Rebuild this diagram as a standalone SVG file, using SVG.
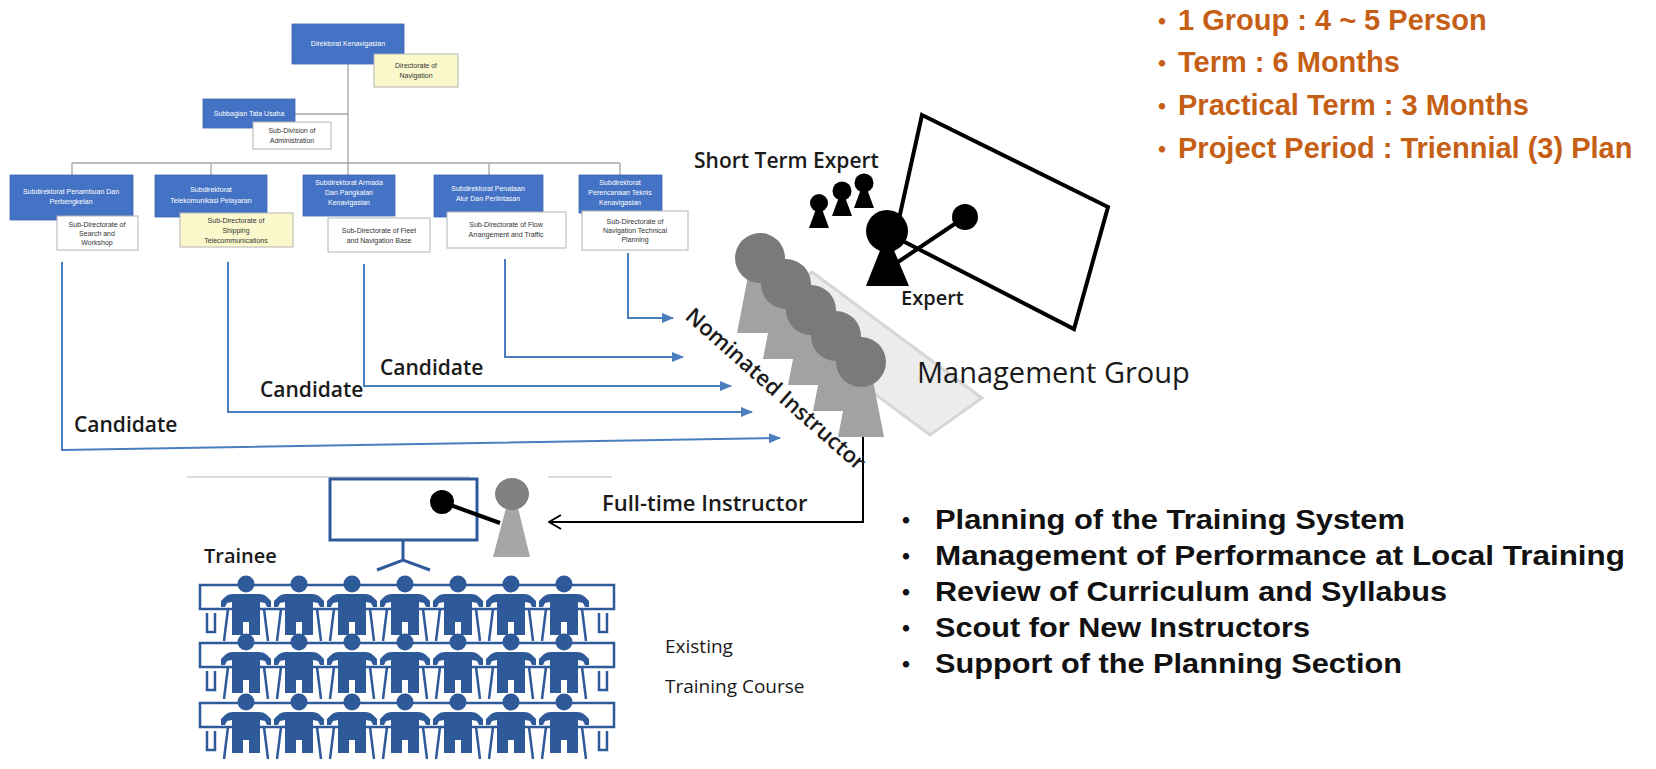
<svg xmlns="http://www.w3.org/2000/svg" width="1656" height="769" viewBox="0 0 1656 769">
  <defs>
    <style>
      .org-line{stroke:#a6a6a6;stroke-width:1.3;fill:none}
      .box-jp{fill:#4472c4;stroke:#3d67b3;stroke-width:0.8}
      .box-en{fill:#ffffff;stroke:#b3b3b3;stroke-width:1}
      .box-yl{fill:#fbf9cc;stroke:#b3b3b3;stroke-width:1}
      .t-jp{font-family:"Liberation Sans",Arial,sans-serif;font-size:7px;fill:#ffffff;text-anchor:middle}
      .t-en{font-family:"Liberation Sans",Arial,sans-serif;font-size:7px;fill:#333333;text-anchor:middle}
      .cand{stroke:#4a7ebf;stroke-width:2;fill:none}
      .lbl{font-family:"Open Sans","Liberation Sans",sans-serif;font-weight:600;fill:#1a1a1a}
      .lbl-reg{font-family:"Open Sans","Liberation Sans",sans-serif;font-weight:400;fill:#1a1a1a}
      .orange{font-family:"Liberation Sans",Arial,sans-serif;font-weight:bold;font-size:29px;fill:#c65f16}
      .task{font-family:"Liberation Sans",Arial,sans-serif;font-weight:bold;font-size:27px;fill:#111111}
      .dot{font-family:"Noto Sans CJK JP","Noto Sans",sans-serif;text-anchor:middle;font-size:25px}
      .blue{fill:#2f5a9a}
      .desk{fill:none;stroke:#2f5a9a;stroke-width:2.5}
      .nom-head{fill:#7a7a7a}
      .nom-body{fill:#a2a2a2}
    </style>
    <marker id="arrBlue" viewBox="0 0 12 10" refX="11" refY="5" markerWidth="12" markerHeight="10" markerUnits="userSpaceOnUse" orient="auto">
      <path d="M0,0 L12,5 L0,10 z" fill="#4a7ebf"/>
    </marker>
    <marker id="arrOpen" viewBox="0 0 14 16" refX="13" refY="8" markerWidth="14" markerHeight="16" markerUnits="userSpaceOnUse" orient="auto">
      <path d="M1,1 L13,8 L1,15" fill="none" stroke="#000" stroke-width="2"/>
    </marker>
    <!-- seated trainee at a desk; origin = head centre on the desk edge -->
    <g id="trainee" class="blue">
      <circle cx="0" cy="-1" r="8.5"/>
      <path d="M-13,9 H13 Q18,9 21,12 L25,16 V22 H21 L19,18 L14,17 V50 H3 V37 H-3 V50 H-14 V17 L-19,18 L-21,22 H-25 V16 L-21,12 Q-18,9 -13,9 Z"/>
      <path d="M-18,24 L-22,56 M18,24 L22,56" stroke="#2f5a9a" stroke-width="2.5" fill="none"/>
    </g>
    <g id="desk-row">
      <rect class="desk" x="200" y="0" width="414" height="24"/>
      <path class="desk" d="M207,28 V47 H215 V28 M607,28 V47 H599 V28"/>
      <use href="#trainee" x="246" y="0"/>
      <use href="#trainee" x="299" y="0"/>
      <use href="#trainee" x="352" y="0"/>
      <use href="#trainee" x="405" y="0"/>
      <use href="#trainee" x="458" y="0"/>
      <use href="#trainee" x="511" y="0"/>
      <use href="#trainee" x="564" y="0"/>
    </g>
  </defs>

  <rect width="1656" height="769" fill="#ffffff"/>

  <!-- organisation chart wiring -->
  <g id="org-lines">
    <path class="org-line" d="M348,64 V175 M295,114 H348 M72,163 H620 M72,163 V175 M211,163 V175 M489,163 V175 M620,163 V175"/>
  </g>

  <g id="org-directorate">
    <rect class="box-jp" x="292" y="24" width="112" height="40"/>
    <text class="t-jp" x="348" y="46">Direktorat Kenavigasian</text>
    <rect class="box-yl" x="374" y="54" width="84" height="33"/>
    <text class="t-en" x="416" y="68">Directorate of</text>
    <text class="t-en" x="416" y="78">Navigation</text>
  </g>

  <g id="org-administration">
    <rect class="box-jp" x="203" y="99" width="92" height="29"/>
    <text class="t-jp" x="249" y="116">Subbagian Tata Usaha</text>
    <rect class="box-en" x="253" y="122" width="78" height="27"/>
    <text class="t-en" x="292" y="133">Sub-Division of</text>
    <text class="t-en" x="292" y="143">Administration</text>
  </g>

  <g id="org-search-workshop">
    <rect class="box-jp" x="10" y="175" width="123" height="45"/>
    <text class="t-jp" x="71" y="194">Subdirektorat Penambuan Dan</text>
    <text class="t-jp" x="71" y="204">Perbengkelan</text>
    <rect class="box-en" x="57" y="216" width="81" height="34"/>
    <text class="t-en" x="97" y="227">Sub-Directorate of</text>
    <text class="t-en" x="97" y="236">Search and</text>
    <text class="t-en" x="97" y="245">Workshop</text>
  </g>

  <g id="org-telecom">
    <rect class="box-jp" x="155" y="175" width="112" height="42"/>
    <text class="t-jp" x="211" y="192">Subdirektorat</text>
    <text class="t-jp" x="211" y="203">Telekomunikasi Pelayaran</text>
    <rect class="box-yl" x="180" y="213" width="113" height="34"/>
    <text class="t-en" x="236" y="223">Sub-Directorate of</text>
    <text class="t-en" x="236" y="233">Shipping</text>
    <text class="t-en" x="236" y="243">Telecommunications</text>
  </g>

  <g id="org-fleet">
    <rect class="box-jp" x="303" y="175" width="92" height="41"/>
    <text class="t-jp" x="349" y="185">Subdirektorat Armada</text>
    <text class="t-jp" x="349" y="195">Dan Pangkalan</text>
    <text class="t-jp" x="349" y="205">Kenavigasian</text>
    <rect class="box-en" x="328" y="218" width="102" height="34"/>
    <text class="t-en" x="379" y="233">Sub-Directorate of Fleet</text>
    <text class="t-en" x="379" y="243">and Navigation Base</text>
  </g>

  <g id="org-flow">
    <rect class="box-jp" x="434" y="175" width="109" height="42"/>
    <text class="t-jp" x="488" y="191">Subdirektorat Penataan</text>
    <text class="t-jp" x="488" y="201">Alur Dan Perlintasan</text>
    <rect class="box-en" x="447" y="212" width="119" height="36"/>
    <text class="t-en" x="506" y="227">Sub-Directorate of Flow</text>
    <text class="t-en" x="506" y="237">Arrangement and Traffic</text>
  </g>

  <g id="org-planning">
    <rect class="box-jp" x="579" y="175" width="83" height="38"/>
    <text class="t-jp" x="620" y="185">Subdirektorat</text>
    <text class="t-jp" x="620" y="195">Perencanaan Teknis</text>
    <text class="t-jp" x="620" y="205">Kenavigasian</text>
    <rect class="box-en" x="582" y="211" width="106" height="39"/>
    <text class="t-en" x="635" y="224">Sub-Directorate of</text>
    <text class="t-en" x="635" y="233">Navigation Technical</text>
    <text class="t-en" x="635" y="242">Planning</text>
  </g>

  <!-- candidate and assignment connectors -->
  <g id="connectors">
    <path class="cand" d="M62,262 V450 L780,438" marker-end="url(#arrBlue)"/>
    <path class="cand" d="M228,262 V412 H752" marker-end="url(#arrBlue)"/>
    <path class="cand" d="M364,264 V386 H731" marker-end="url(#arrBlue)"/>
    <path class="cand" d="M505,259 V357 H683" marker-end="url(#arrBlue)"/>
    <path class="cand" d="M628,253 V318 H673" marker-end="url(#arrBlue)"/>
    <path d="M863,437 V522 H549" fill="none" stroke="#000" stroke-width="2" marker-end="url(#arrOpen)"/>
  </g>

  <g id="candidate-labels">
    <text class="lbl" x="74" y="432" font-size="21">Candidate</text>
    <text class="lbl" x="260" y="397" font-size="21">Candidate</text>
    <text class="lbl" x="380" y="375" font-size="21">Candidate</text>
    <text class="lbl" x="602" y="511" font-size="22">Full-time Instructor</text>
  </g>

  <!-- expert with board -->
  <g id="expert">
    <polygon points="922,115 1108,207 1074,329 895,237" fill="#ffffff" stroke="#000" stroke-width="4"/>
    <line x1="898" y1="262" x2="965" y2="217" stroke="#000" stroke-width="4"/>
    <circle cx="965" cy="217" r="13"/>
    <polygon points="881,248 893,248 909,286 866,286"/>
    <circle cx="887" cy="231" r="21"/>
    <text class="lbl" x="901" y="305" font-size="20">Expert</text>
  </g>

  <g id="short-term-experts">
    <polygon points="816,209 822,209 829,228 809,228"/>
    <circle cx="819" cy="203" r="9"/>
    <polygon points="839,197 845,197 852,216 832,216"/>
    <circle cx="842" cy="191" r="9.5"/>
    <polygon points="861,189 867,189 874,208 854,208"/>
    <circle cx="864" cy="183" r="9.5"/>
    <text class="lbl" x="694" y="168" font-size="21">Short Term Expert</text>
  </g>

  <!-- management group and nominated instructors -->
  <g id="management-group">
    <polygon points="812,272 982,398 930,435 760,309" fill="#ececec" stroke="#d6d6d6" stroke-width="3"/>
    <text class="lbl-reg" x="917" y="383" font-size="29" font-weight="500">Management Group</text>
  </g>

  <g id="nominated-instructors">
    <polygon class="nom-body" points="750,266 770,266 783,333 737,333"/>
    <polygon class="nom-body" points="776,292 796,292 809,359 763,359"/>
    <polygon class="nom-body" points="801,318 821,318 834,385 788,385"/>
    <polygon class="nom-body" points="826,344 846,344 859,411 813,411"/>
    <polygon class="nom-body" points="851,370 871,370 884,437 838,437"/>
    <circle class="nom-head" cx="760" cy="258" r="25"/>
    <circle class="nom-head" cx="786" cy="284" r="25"/>
    <circle class="nom-head" cx="811" cy="310" r="25"/>
    <circle class="nom-head" cx="836" cy="336" r="25"/>
    <circle class="nom-head" cx="861" cy="362" r="25"/>
    <text class="lbl" transform="translate(684,318) rotate(41.5)" font-size="22">Nominated Instructor</text>
  </g>

  <!-- classroom -->
  <g id="classroom">
    <path d="M187,477 H470 M548,477 H612" stroke="#dddddd" stroke-width="2" fill="none"/>
    <rect x="330" y="479" width="147" height="61" fill="#ffffff" stroke="#2f5a9a" stroke-width="3"/>
    <path d="M403,540 V560 M377,570 L403,560 L430,570" fill="none" stroke="#2f5a9a" stroke-width="3"/>
    <line x1="442" y1="502" x2="500" y2="523" stroke="#000" stroke-width="4"/>
    <circle cx="442" cy="502" r="12"/>
    <polygon points="506,508 518,508 530,557 493,557" fill="#a6a6a6"/>
    <ellipse cx="512" cy="494" rx="17" ry="16" fill="#808080"/>
    <text class="lbl" x="204" y="563" font-size="20">Trainee</text>
    <use href="#desk-row" x="0" y="585"/>
    <use href="#desk-row" x="0" y="643"/>
    <use href="#desk-row" x="0" y="703"/>
    <text class="lbl-reg" x="665" y="653" font-size="19" fill="#333333">Existing</text>
    <text class="lbl-reg" x="665" y="693" font-size="19" fill="#333333">Training Course</text>
  </g>

  <!-- programme figures -->
  <g id="programme-terms">
    <text class="orange dot" x="1162" y="31">・</text>
    <text class="orange" x="1178" y="30">1 Group : 4 ~ 5 Person</text>
    <text class="orange dot" x="1162" y="73">・</text>
    <text class="orange" x="1178" y="72">Term : 6 Months</text>
    <text class="orange dot" x="1162" y="116">・</text>
    <text class="orange" x="1178" y="115">Practical Term : 3 Months</text>
    <text class="orange dot" x="1162" y="159">・</text>
    <text class="orange" x="1178" y="158">Project Period : Triennial (3) Plan</text>
  </g>

  <!-- duties of the management group -->
  <g id="duties">
    <text class="task dot" x="906" y="530">・</text>
    <text class="task" x="935" y="529" textLength="470" lengthAdjust="spacingAndGlyphs">Planning of the Training System</text>
    <text class="task dot" x="906" y="566">・</text>
    <text class="task" x="935" y="565" textLength="690" lengthAdjust="spacingAndGlyphs">Management of Performance at Local Training</text>
    <text class="task dot" x="906" y="602">・</text>
    <text class="task" x="935" y="601" textLength="512" lengthAdjust="spacingAndGlyphs">Review of Curriculum and Syllabus</text>
    <text class="task dot" x="906" y="638">・</text>
    <text class="task" x="935" y="637" textLength="375" lengthAdjust="spacingAndGlyphs">Scout for New Instructors</text>
    <text class="task dot" x="906" y="674">・</text>
    <text class="task" x="935" y="673" textLength="467" lengthAdjust="spacingAndGlyphs">Support of the Planning Section</text>
  </g>
</svg>
